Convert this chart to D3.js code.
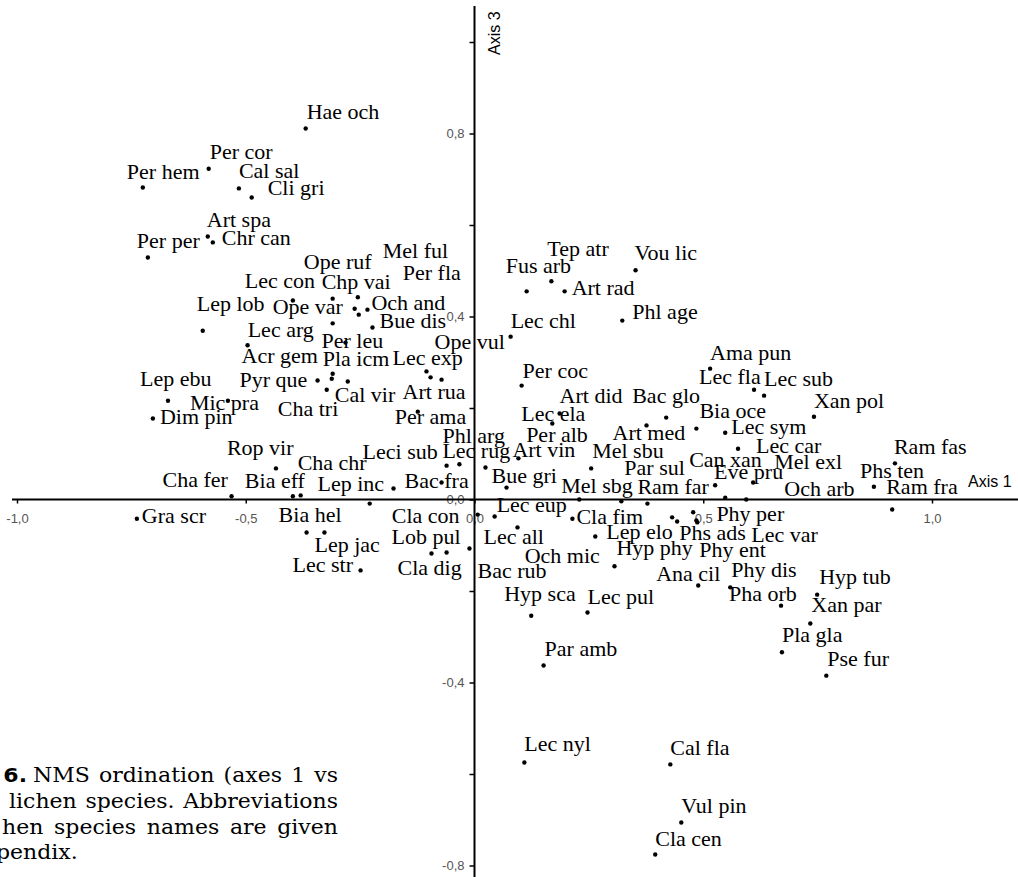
<!DOCTYPE html>
<html>
<head>
<meta charset="utf-8">
<script src="https://cdn.jsdelivr.net/npm/d3@7"></script>
<style>
  html, body { margin: 0; padding: 0; background: #fff; }
  svg { display: block; }
</style>
</head>
<body>
<svg id="chart" width="1018" height="877"></svg>
<script>
// NMS ordination scores of lichen species (axis 1 vs axis 3)
const species = ["Hae och","Per cor","Per hem","Cal sal","Cli gri","Art spa","Chr can","Per per","Ope ruf","Mel ful",
  "Lec con","Chp vai","Per fla","Lep lob","Ope var","Och and","Bue dis","Lec arg","Per leu","Acr gem",
  "Pla icm","Lec exp","Ope vul","Lep ebu","Pyr que","Cal vir","Art rua","Mic pra","Dim pin","Cha tri",
  "Per ama","Phl arg","Rop vir","Cha chr","Leci sub","Lec rug","Cha fer","Bia eff","Lep inc","Bac fra",
  "Gra scr","Bia hel","Cla con","Lep jac","Lob pul","Lec str","Cla dig","Tep atr","Vou lic","Fus arb",
  "Art rad","Lec chl","Phl age","Per coc","Art did","Bac glo","Lec ela","Per alb","Art med","Art vin",
  "Mel sbu","Bue gri","Mel sbg","Par sul","Ram far","Can xan","Ama pun","Lec fla","Lec sub","Xan pol",
  "Bia oce","Lec sym","Lec car","Mel exl","Eve pru","Och arb","Ram fas","Phs ten","Ram fra","Phy per",
  "Lec eup","Cla fim","Lep elo","Phs ads","Lec var","Lec all","Hyp phy","Phy ent","Och mic","Bac rub",
  "Ana cil","Phy dis","Hyp tub","Pha orb","Hyp sca","Lec pul","Xan par","Pla gla","Pse fur","Par amb",
  "Lec nyl","Cal fla","Vul pin","Cla cen"];

const axis1 = [-0.369,-0.581,-0.725,-0.515,-0.487,-0.583,-0.572,-0.714,-0.255,-0.253,
  -0.397,-0.310,-0.277,-0.594,-0.262,-0.234,-0.223,-0.310,-0.282,-0.496,
  -0.310,-0.105,-0.072,-0.670,-0.343,-0.323,-0.096,-0.539,-0.703,-0.312,
  -0.124,0.024,-0.434,-0.380,-0.061,-0.033,-0.531,-0.397,-0.177,-0.072,
  -0.738,-0.367,-0.229,-0.328,-0.061,-0.249,-0.094,0.168,0.352,0.114,
  0.197,0.079,0.323,0.103,0.186,0.419,0.170,0.432,0.376,0.096,
  0.255,0.070,0.229,0.321,0.378,0.526,0.515,0.611,0.633,0.742,
  0.485,0.548,0.576,0.548,0.609,0.594,0.919,0.873,0.913,0.485,
  0.044,0.214,0.264,0.443,0.487,0.094,0.306,0.478,0.007,-0.011,
  0.489,0.559,0.749,0.670,0.124,0.247,0.734,0.672,0.769,0.151,
  0.109,0.428,0.452,0.395];

const axis3 = [0.811,0.723,0.682,0.680,0.660,0.575,0.562,0.529,0.442,0.404,
  0.435,0.439,0.258,0.369,0.417,0.415,0.376,0.385,0.343,0.337,
  0.275,0.280,0.262,0.216,0.260,0.240,0.267,0.216,0.177,0.264,
  0.192,0.070,0.068,0.009,0.074,0.077,0.007,0.007,0.024,0.037,
  -0.042,-0.072,-0.009,-0.072,-0.116,-0.155,-0.118,0.477,0.501,0.455,
  0.455,0.356,0.391,0.249,0.188,0.179,0.166,-0.039,0.162,0.090,
  0.068,0.026,0.000,-0.004,-0.009,0.031,0.286,0.240,0.227,0.181,
  0.155,0.146,0.111,0.004,0.037,0.000,0.079,0.028,-0.022,-0.046,
  -0.037,-0.042,-0.081,-0.048,-0.050,-0.061,-0.146,-0.028,-0.033,-0.107,
  -0.188,-0.192,-0.208,-0.232,-0.254,-0.247,-0.271,-0.334,-0.385,-0.363,
  -0.575,-0.579,-0.706,-0.776];

// Label placement (pixel offset of each label's start/baseline from its point)
const labelDx = [1,1,-16,0,16,-1,9,-11,-54,24,
  -48,-11,55,-6,-82,4,7,-85,-24,-6,
  -10,-34,-7,-28,-78,8,-28,-38,7,-54,
  -23,-43,-49,-3,-84,-17,-69,-48,-76,-37,
  5,-28,22,-10,-55,-68,-34,-4,-1,-21,
  7,0,10,1,0,-34,-31,-146,-34,-6,
  1,-15,-18,3,-10,-26,0,-55,0,0,
  3,6,18,49,-39,38,-1,-14,-6,20,
  2,4,11,2,54,-34,2,6,47,8,
  -42,1,2,-52,-27,0,1,0,1,1,
  0,0,0,0];
const labelDy = [-9,-10,-8,-10,-3,-9,3,-9,-28,-57,
  -12,-10,-101,-20,5,0,1,14,5,18,
  -8,-6,-31,-15,6,12,22,9,5,37,
  12,-24,-13,-25,-7,-6,-9,-8,2,5,
  4,-10,19,20,-9,2,22,-25,-10,-18,
  4,-9,-2,-8,-10,-15,-3,-75,15,-1,
  -10,-5,-7,-26,-10,-18,-9,-6,-10,-9,
  -11,1,4,-29,-4,-4,-9,-9,-16,0,
  -4,5,2,19,20,17,-11,45,48,30,
  -5,-10,-11,-5,-15,-9,-11,-10,-10,-10,
  -12,-9,-9,-9];

// Axis ticks
const xTickValues = [-1.0, -0.5, 0.0, 0.5, 1.0];
const xTickLabels = ["-1,0", "-0,5", "0,0", "0,5", "1,0"];
const yTickValues = [-0.8, -0.6, -0.4, -0.2, 0.0, 0.2, 0.4, 0.6, 0.8, 1.0];
const yTickLabels = ["-0,8", "", "-0,4", "", "0,0", "", "0,4", "", "0,8", ""];

// Caption lines
const captionLead = "6.";
const captionLines = [
  ["NMS", "ordination", "(axes", "1", "vs"],
  ["lichen", "species.", "Abbreviations"],
  ["hen", "species", "names", "are", "given"],
  ["pendix."]
];

const SERIF = "'Liberation Serif', 'Times New Roman', Times, 'DejaVu Serif', serif";
const SANS = "'Liberation Sans', Arial, Helvetica, sans-serif";
const CAPFONT = "'DejaVu Serif', 'Liberation Serif', serif";

const svg = d3.select("#chart");

const x = d3.scaleLinear().domain([-1, 1]).range([17, 932]);
const y = d3.scaleLinear().domain([-0.8, 0.8]).range([865.5, 133.5]);

const points = species.map((name, i) => ({
  name, a1: axis1[i], a3: axis3[i], dx: labelDx[i], dy: labelDy[i]
}));

// Tick marks and tick labels
const xAxis = d3.axisBottom(x)
  .tickValues(xTickValues)
  .tickSize(4)
  .tickPadding(10)
  .tickFormat((d, i) => xTickLabels[i]);
const yAxis = d3.axisLeft(y)
  .tickValues(yTickValues)
  .tickSize(5)
  .tickPadding(5)
  .tickFormat((d, i) => yTickLabels[i]);

const gx = svg.append("g").attr("transform", `translate(0,${y(0)})`).call(xAxis);
const gy = svg.append("g").attr("transform", `translate(${x(0)},0)`).call(yAxis);
[gx, gy].forEach(g => {
  g.select(".domain").remove();
  g.attr("font-family", SANS).attr("font-size", 13);
  g.selectAll(".tick line").attr("stroke", "#000").attr("stroke-width", 1.5);
  g.selectAll(".tick text").attr("fill", "#555");
});

// Points
svg.append("g").selectAll("circle")
  .data(points)
  .join("circle")
  .attr("cx", d => x(d.a1))
  .attr("cy", d => y(d.a3))
  .attr("r", 2.2)
  .attr("fill", "#000");

// Species labels
svg.append("g")
  .attr("font-family", SERIF)
  .attr("font-size", 22)
  .selectAll("text")
  .data(points)
  .join("text")
  .attr("x", d => x(d.a1) + d.dx)
  .attr("y", d => y(d.a3) + d.dy)
  .attr("fill", "#000")
  .text(d => d.name);

// Axis lines through the origin
svg.append("line")
  .attr("x1", 12).attr("x2", 1018)
  .attr("y1", y(0)).attr("y2", y(0))
  .attr("stroke", "#000").attr("stroke-width", 2);
svg.append("line")
  .attr("x1", x(0)).attr("x2", x(0))
  .attr("y1", 6).attr("y2", 877)
  .attr("stroke", "#000").attr("stroke-width", 2);

// Axis titles
svg.append("text")
  .attr("font-family", SANS).attr("font-size", 16)
  .attr("x", 968).attr("y", 487)
  .text("Axis 1");
svg.append("text")
  .attr("font-family", SANS).attr("font-size", 16)
  .attr("transform", `translate(${x(0) + 25},55) rotate(-90)`)
  .text("Axis 3");

// Caption (justified lines)
const sx = 1.1;
const cap = svg.append("g").attr("font-family", CAPFONT).attr("font-size", 20);
const baselines = [782, 808, 834, 859];
const spans = [[33, 338], [9, 338], [2, 338], [-4, null]];

cap.append("text")
  .attr("font-family", "'DejaVu Sans', Verdana, sans-serif")
  .attr("font-weight", "bold")
  .attr("text-anchor", "end")
  .attr("transform", `translate(27,${baselines[0]}) scale(${sx},1)`)
  .text(captionLead);

captionLines.forEach((words, li) => {
  const [x0, x1] = spans[li];
  const nodes = words.map(w => cap.append("text").text(w));
  const widths = nodes.map(n => n.node().getComputedTextLength() * sx);
  const total = d3.sum(widths);
  const gap = (x1 === null || words.length < 2) ? 6 : (x1 - x0 - total) / (words.length - 1);
  let cx = x0;
  nodes.forEach((n, i) => {
    n.attr("transform", `translate(${cx},${baselines[li]}) scale(${sx},1)`);
    cx += widths[i] + gap;
  });
});
</script>
</body>
</html>
